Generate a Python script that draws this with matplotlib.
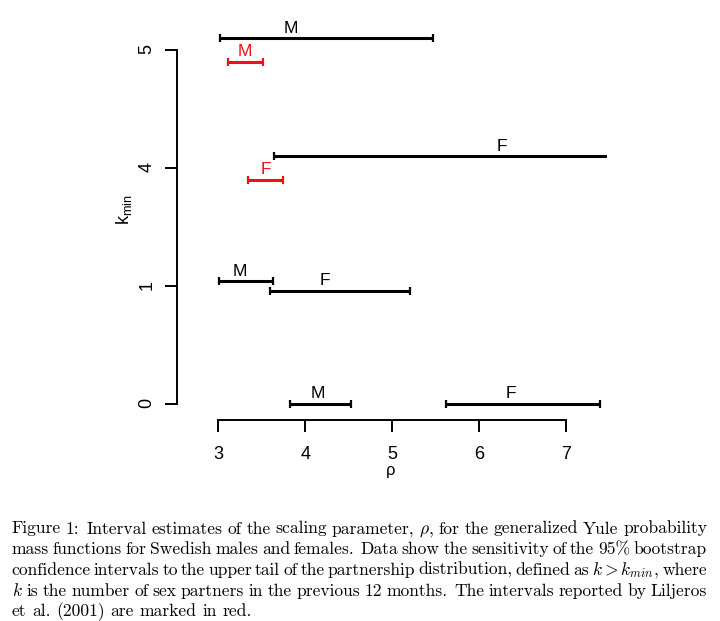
import matplotlib
matplotlib.use('Agg')
import matplotlib.pyplot as plt

plt.rcParams['font.family'] = 'Liberation Sans'
plt.rcParams['mathtext.fontset'] = 'cm'

kmin_levels = ['0', '1', '4', '5']

# 95% bootstrap intervals (black)
ci_kmin = ['0', '0', '1', '1', '4', '5']
ci_sex = ['M', 'F', 'M', 'F', 'F', 'M']
ci_low = [3.82, 5.62, 3.01, 3.60, 3.64, 3.02]
ci_high = [4.53, 7.40, 3.63, 5.21, 8.90, 5.47]
ci_est = [4.14, 6.37, 3.25, 4.23, 6.27, 3.84]

# intervals from Liljeros et al. (2001), in red
lil_kmin = ['4', '5']
lil_sex = ['F', 'M']
lil_low = [3.34, 3.11]
lil_high = [3.75, 3.52]
lil_est = [3.55, 3.31]

caption = [
    r'Figure 1: Interval estimates of the scaling parameter, $\rho$, for the generalized Yule probability',
    r'mass functions for Swedish males and females. Data show the sensitivity of the 95% bootstrap',
    r'confidence intervals to the upper tail of the partnership distribution, defined as $k>k_{min}$, where',
    r'$k$ is the number of sex partners in the previous 12 months. The intervals reported by Liljeros',
    r'et al. (2001) are marked in red.',
]

W, H = 720, 621
fig = plt.figure(figsize=(W / 100, H / 100), dpi=100)
# plot region in pixels: x 177..607, y 0..420
ax = fig.add_axes([177 / W, 1 - 420 / H, 430 / W, 420 / H])
ax.set_xlim(2.524, 7.476)
ax.set_ylim(-0.1356, 3.424)


def draw(kmins, sexes, lo, hi, est, nudge, color):
    y = [kmin_levels.index(k) + d for k, d in zip(kmins, nudge)]
    xerr = [[e - l for e, l in zip(est, lo)], [h - e for e, h in zip(est, hi)]]
    ax.errorbar(est, y, xerr=xerr, fmt='none', ecolor=color, elinewidth=2.2,
                capsize=3, capthick=1.6)
    for e, yy, s in zip(est, y, sexes):
        ax.annotate(s, (e, yy), xytext=(0, 4), textcoords='offset points',
                    ha='center', va='baseline', color=color, fontsize=12.5)


draw(ci_kmin, ci_sex, ci_low, ci_high, ci_est, [0, 0, 0.04, -0.04, 0.1, 0.1], 'black')
draw(lil_kmin, lil_sex, lil_low, lil_high, lil_est, [-0.1, -0.1], '#ee1111')

for s in ['top', 'right']:
    ax.spines[s].set_visible(False)
ax.spines['left'].set_bounds(0, 3)
ax.spines['bottom'].set_bounds(3, 7)
for s in ['left', 'bottom']:
    ax.spines[s].set_linewidth(1.4)

ax.set_yticks(range(len(kmin_levels)))
ax.set_yticklabels(kmin_levels)
ax.set_xticks([3, 4, 5, 6, 7])
ax.tick_params(length=8.5, width=1.4, labelsize=13)
ax.tick_params(axis='y', labelrotation=90, pad=7)
ax.tick_params(axis='x', pad=10)

fig.text(391 / W, 1 - 470 / H, '\u03c1', ha='center', va='center', fontsize=12)
fig.text(124 / W, 1 - 210 / H, r'$\mathregular{k_{min}}$', rotation=90,
         ha='center', va='center', fontsize=13)

# caption, justified like the LaTeX original (wider glue after sentence ends)
renderer = fig.canvas.get_renderer()
x0, x1 = 11.5, 707.0
fs = 12.6
space = 0.333 * fs * 100 / 72
for i, line in enumerate(caption):
    yb = 1 - (533.5 + i * 20.7) / H
    words = line.split(' ')
    texts = [fig.text(0, yb, w, fontsize=fs, family='cmr10', va='baseline')
             for w in words]
    widths = [t.get_window_extent(renderer).width for t in texts]
    weights = [1.5 if w[-1] in '.:' and w != 'al.' else 1.0 for w in words[:-1]]
    if i == len(caption) - 1:
        unit = space
    else:
        unit = (x1 - x0 - sum(widths)) / sum(weights)
    x = x0
    for j, (t, w) in enumerate(zip(texts, widths)):
        t.set_x(x / W)
        if j < len(weights):
            x += w + unit * weights[j]

fig.savefig('out.png', dpi=100)
